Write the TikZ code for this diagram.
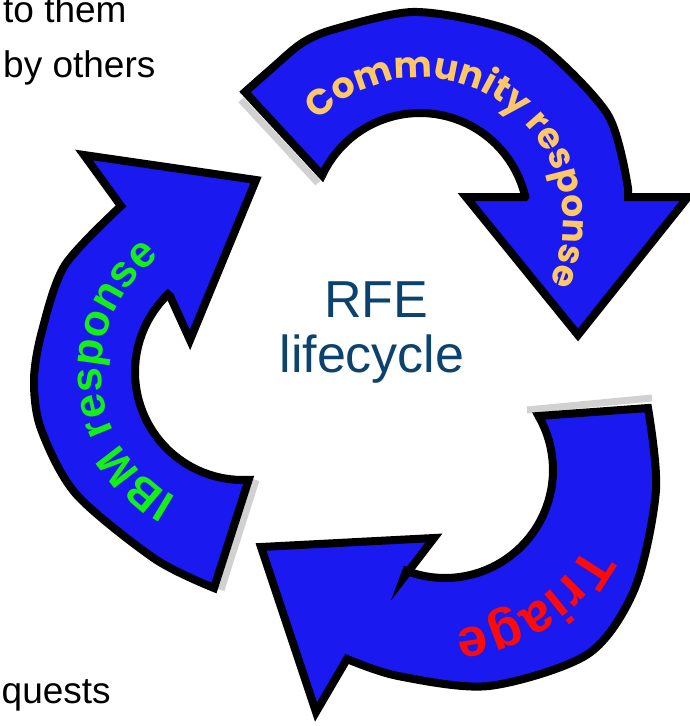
\documentclass[tikz,border=0pt]{standalone}
\usepackage{fontspec}
\setmainfont{Liberation Sans}
\newfontfamily\roundfont{Poppins}
\usetikzlibrary{decorations.text}
\definecolor{arrowblue}{RGB}{26,26,240}
\definecolor{commorange}{RGB}{255,200,100}
\definecolor{ibmgreen}{RGB}{20,240,20}
\definecolor{triagered}{RGB}{255,10,10}
\definecolor{rfeblue}{RGB}{12,66,110}

\begin{document}
\begin{tikzpicture}[x=1pt, y=-1pt,
    cyclearrow/.style={fill=arrowblue, draw=black, line width=8pt, line join=miter},
    tailshade/.style={draw=black!18, line width=7pt},
    lbl/.style={text=rfeblue, font=\fontsize{52}{55}\selectfont, inner sep=0pt},
    corner/.style={font=\fontsize{37}{40}\selectfont, inner sep=0pt, anchor=base west}]
    \useasboundingbox (0,0) rectangle (690,726);
    \clip (0,0) rectangle (690,726);

    % grey edges behind the tails
    \draw[tailshade] (241,100) -- (318,183);
    \draw[tailshade] (256,480) -- (221,590);
    \draw[tailshade] (527,410) -- (652,398);

    % Community response (top arrow)
    \draw[cyclearrow] plot[smooth] coordinates {(245,92) (270,70) (302,43) (335,29) (412,12) (490,24) (543,47) (608,115) (628,188)}
        -- (628,197) -- (688,197) -- (578,335) -- (466,197) -- (525,197)
        -- plot[domain=347:205, samples=40] ({420+108*cos(\x)}, {221+108*sin(\x)}) -- cycle;

    % IBM response (left arrow)
    \draw[cyclearrow] plot[smooth] coordinates {(214,588) (155,559) (76,494) (41,429) (34,380) (42,331) (65,265) (121,206)}
        -- (84,155) -- (256,180) -- (190,340) -- (170,296)
        -- plot[domain=226:87, samples=40] ({243+108*cos(\x)}, {372+108*sin(\x)}) -- cycle;

    % Triage (bottom arrow)
    \draw[cyclearrow] plot[smooth] coordinates {(648,408) (656,490) (635,588) (588,654) (489,686) (398,676) (347,659)}
        -- (316,712) -- (261,547) -- (434,538) -- (404,577)
        -- plot[domain=111:-30, samples=40] ({445+108*cos(\x)}, {470+108*sin(\x)}) -- cycle;

    % labels along the arrows
    \path[decorate, decoration={text along path, text align=center,
        text={|\roundfont\bfseries\fontsize{36}{36}\selectfont\color{commorange}|Community response}}]
        plot[domain=205:405, samples=60] ({420+143*cos(\x)}, {221+143*sin(\x)});
    \path[decorate, decoration={text along path, text align=center,
        text={|\bfseries\fontsize{44}{44}\selectfont\color{ibmgreen}|IBM response}}]
        plot[domain=86:266, samples=60] ({243+142*cos(\x)}, {372+142*sin(\x)});
    \path[decorate, decoration={text along path, text align=center,
        text={|\bfseries\fontsize{54}{54}\selectfont\color{triagered}|Triage}}]
        plot[domain=-33:147, samples=60] ({445+160*cos(\x)}, {470+160*sin(\x)});

    % centre title
    \node[lbl, anchor=base] (rfe) at (376,317) {RFE};
    \node[lbl, anchor=base] (lifecycle) at (372,372) {lifecycle};

    % cut-off side texts
    \node[corner] (tothem) at (3,22) {to them};
    \node[corner] (byothers) at (3,77) {by others};
    \node[corner] (quests) at (1.5,703) {quests};
\end{tikzpicture}
\end{document}
